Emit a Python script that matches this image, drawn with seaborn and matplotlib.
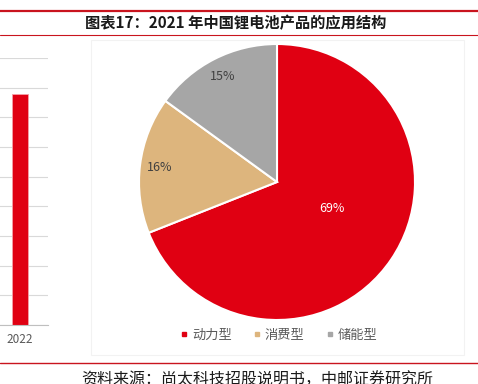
import numpy as np
import pandas as pd
import matplotlib
matplotlib.use('Agg')
import matplotlib.pyplot as plt
import seaborn as sns
from matplotlib.lines import Line2D
from matplotlib.patches import Rectangle

# podaci
segments = ['动力型', '消费型', '储能型']
shares = [69, 16, 15]
colors = ['#E00012', '#DDB57D', '#A6A6A6']

bar_years = ['2022']
bar_values = [7.8]

sns.set_theme(style='white')
plt.rcParams['font.family'] = ['Noto Sans CJK SC', 'DejaVu Sans']

W, H = 478, 384
fig = plt.figure(figsize=(W / 100, H / 100), dpi=100)

# lijevi (odrezani) stupcasti graf
ax_bar = fig.add_axes([(48 - 224) / W, (H - 325) / H, 224 / W, 267 / H])
df_bar = pd.DataFrame({'year': bar_years, 'value': bar_values})
sns.barplot(data=df_bar, x='year', y='value', ax=ax_bar, color='#E00012',
            width=0.3, saturation=1, edgecolor='#F5A0A8', linewidth=0.6)
ax_bar.set_xlim(-3.5, 0.5)
ax_bar.set_ylim(0, 9)
ax_bar.set_yticks(np.arange(0, 10, 1))
ax_bar.yaxis.grid(True, color='#D9D9D9', linewidth=0.8)
ax_bar.set_axisbelow(True)
for s in ['top', 'right', 'left']:
    ax_bar.spines[s].set_visible(False)
ax_bar.spines['bottom'].set_color('#BFBFBF')
ax_bar.spines['bottom'].set_linewidth(0.8)
ax_bar.set_yticklabels([])
ax_bar.tick_params(axis='y', length=0)
ax_bar.tick_params(axis='x', length=0, labelsize=8.5, colors='#595959', pad=6)
ax_bar.set_xlabel('')
ax_bar.set_ylabel('')
ax_bar.set_facecolor('none')

# okvir oko pite
fig.add_artist(Rectangle((91 / W, (H - 355) / H), (464 - 91) / W, (355 - 40) / H,
                         transform=fig.transFigure, fill=False,
                         edgecolor='#F2F2F2', linewidth=0.8))

# pita
r = 138
lim = 1.02
ax_pie = fig.add_axes([(277 - r * lim) / W, (H - 182 - r * lim) / H,
                       2 * r * lim / W, 2 * r * lim / H])
wedges, texts, autotexts = ax_pie.pie(
    shares, colors=colors, startangle=90, counterclock=False,
    autopct='%d%%', pctdistance=0.86,
    wedgeprops=dict(edgecolor='white', linewidth=1.5),
    textprops=dict(fontsize=9, color='#404040'))
autotexts[0].set_color('white')
autotexts[0].set_position((0.40, -0.19))
ax_pie.set_xlim(-lim, lim)
ax_pie.set_ylim(-lim, lim)
ax_pie.set_aspect('equal')

# legenda
handles = [Line2D([], [], marker='s', linestyle='', color=c, markersize=3.5)
           for c in colors]
fig.legend(handles, segments, loc='center', bbox_to_anchor=(278 / W, (H - 335) / H),
           ncol=3, frameon=False, fontsize=9.5, labelcolor='#595959',
           handletextpad=0.2, columnspacing=1.5, handlelength=0.8)

# naslov i linije
red_line = '#C9141E'
fig.add_artist(Line2D([0, 1], [(H - 10.5) / H] * 2, transform=fig.transFigure,
                      color=red_line, linewidth=1.6))
fig.add_artist(Line2D([0, 1], [(H - 35) / H] * 2, transform=fig.transFigure,
                      color=red_line, linewidth=0.8))
fig.add_artist(Line2D([0, 1], [(H - 363) / H] * 2, transform=fig.transFigure,
                      color=red_line, linewidth=1.0))
fig.text(236 / W, (H - 23.5) / H, '图表17：2021 年中国锂电池产品的应用结构',
         ha='center', va='center', fontsize=11, fontweight='bold', color='#1A1A1A')
fig.text(81 / W, (H - 380) / H, '资料来源：尚太科技招股说明书，中邮证券研究所',
         ha='left', va='center', fontsize=11.5, color='#1A1A1A')

fig.savefig('out.png', dpi=100)
